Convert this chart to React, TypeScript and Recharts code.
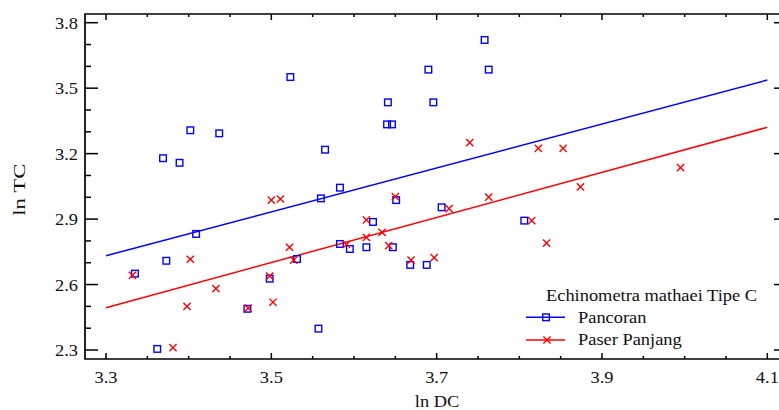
import React from "react";
import {
  Legend,
  ReferenceLine,
  Scatter,
  ScatterChart,
  XAxis,
  YAxis,
} from "recharts";

// Pancoran (blue squares)
const pancoranDC = [
  3.335, 3.362, 3.369, 3.373, 3.389, 3.402, 3.409, 3.437, 3.471, 3.498, 3.523,
  3.531, 3.557, 3.56, 3.565, 3.583, 3.583, 3.595, 3.615, 3.623, 3.64, 3.646,
  3.641, 3.647, 3.651, 3.668, 3.688, 3.69, 3.696, 3.706, 3.758, 3.763, 3.806,
];
const pancoranTC = [
  2.65, 2.305, 3.179, 2.709, 3.158, 3.307, 2.832, 3.293, 2.489, 2.627, 3.551,
  2.717, 2.398, 2.995, 3.218, 3.044, 2.786, 2.763, 2.771, 2.887, 3.334, 3.334,
  3.435, 2.771, 2.987, 2.69, 2.69, 3.585, 3.435, 2.954, 3.721, 3.585, 2.893,
];

// Paser Panjang (red crosses)
const paserDC = [
  3.332, 3.381, 3.398, 3.402, 3.433, 3.472, 3.498, 3.5, 3.502, 3.511, 3.522,
  3.527, 3.591, 3.615, 3.615, 3.634, 3.642, 3.65, 3.669, 3.697, 3.715, 3.74,
  3.763, 3.815, 3.823, 3.833, 3.853, 3.874, 3.995,
];
const paserTC = [
  2.642, 2.311, 2.5, 2.716, 2.581, 2.492, 2.639, 2.987, 2.519, 2.992, 2.771,
  2.712, 2.784, 2.896, 2.816, 2.839, 2.778, 3.003, 2.712, 2.723, 2.948, 3.25,
  3.001, 2.893, 3.224, 2.79, 3.224, 3.048, 3.136,
];

// fitted lines, ln TC at ln DC = 3.3 and 4.1
const fitDC = [3.3, 4.1];
const pancoranFit = [2.732, 3.537];
const paserFit = [2.494, 3.321];

const xDomain = [3.2746, 4.1238];
const yDomain = [2.2588, 3.8399];
const xTicks = [
  3.3, 3.35, 3.4, 3.45, 3.5, 3.55, 3.6, 3.65, 3.7, 3.75, 3.8, 3.85, 3.9, 3.95,
  4.0, 4.05, 4.1,
];
const xLabels = ["3.3", "3.5", "3.7", "3.9", "4.1"];
const yTicks = [
  2.3, 2.4, 2.5, 2.6, 2.7, 2.8, 2.9, 3.0, 3.1, 3.2, 3.3, 3.4, 3.5, 3.6, 3.7,
  3.8,
];
const yLabels = ["2.3", "2.6", "2.9", "3.2", "3.5", "3.8"];

const pancoran = pancoranDC.map((x, i) => ({ x, y: pancoranTC[i] }));
const paser = paserDC.map((x, i) => ({ x, y: paserTC[i] }));

const BLUE = "#0000ff";
const RED = "#ff0000";
const FONT = '"Liberation Serif", "Times New Roman", serif';

const PLOT_LEFT = 85;
const PLOT_RIGHT = 787;
const PLOT_TOP = 14;
const PLOT_BOTTOM = 359;

const findLabel = (labels: string[], v: number) =>
  labels.find((l) => Math.abs(parseFloat(l) - v) < 1e-6);

function Label({ x, y, anchor, children }: any) {
  return (
    <text
      transform={`translate(${x} ${y}) scale(1.15 1)`}
      textAnchor={anchor}
      fontFamily={FONT}
      fontSize={16}
      fill="#111"
    >
      {children}
    </text>
  );
}

// axis titles ignore the props recharts passes in
function XTitle() {
  return (
    <Label x={437} y={407} anchor="middle">
      ln DC
    </Label>
  );
}

function YTitle() {
  return (
    <text
      transform="translate(25 189.7) rotate(-90) scale(1.34 1)"
      textAnchor="middle"
      fontFamily={FONT}
      fontSize={17}
      fill="#111"
    >
      ln TC
    </text>
  );
}

function Frame() {
  return (
    <path
      d={`M${PLOT_RIGHT},${PLOT_TOP}H${PLOT_LEFT}V${PLOT_BOTTOM}H${PLOT_RIGHT}`}
      fill="none"
      stroke="#000"
      strokeWidth={1.7}
    />
  );
}

function BottomTick(props: any) {
  const x = props.payload.coordinate ?? props.x;
  const label = findLabel(xLabels, props.payload.value);
  return (
    <g>
      <line x1={x} x2={x} y1={PLOT_BOTTOM} y2={PLOT_BOTTOM - (label ? 6 : 3)} stroke="#000" strokeWidth={1.5} />
      {label && (
        <Label x={x} y={383} anchor="middle">
          {label}
        </Label>
      )}
    </g>
  );
}

function TopTick(props: any) {
  const x = props.payload.coordinate ?? props.x;
  const label = findLabel(xLabels, props.payload.value);
  return <line x1={x} x2={x} y1={PLOT_TOP} y2={PLOT_TOP + (label ? 6 : 3)} stroke="#000" strokeWidth={1.5} />;
}

// the lowest left tick also draws the frame (top, left and bottom sides)
function LeftTick(props: any) {
  const y = props.payload.coordinate ?? props.y;
  const v = props.payload.value;
  const label = findLabel(yLabels, v);
  return (
    <g>
      {Math.abs(v - yTicks[0]) < 1e-6 && <Frame />}
      <line x1={PLOT_LEFT} x2={PLOT_LEFT + (label ? 13 : 6)} y1={y} y2={y} stroke="#000" strokeWidth={1.5} />
      {label && (
        <Label x={78} y={y + 6} anchor="end">
          {label}
        </Label>
      )}
    </g>
  );
}

function RightTick(props: any) {
  const y = props.payload.coordinate ?? props.y;
  const label = findLabel(yLabels, props.payload.value);
  return <line x1={PLOT_RIGHT - (label ? 13 : 6)} x2={PLOT_RIGHT} y1={y} y2={y} stroke="#000" strokeWidth={1.5} />;
}

function Square({ cx, cy, stroke = BLUE }: any) {
  return <rect x={cx - 3.3} y={cy - 3.3} width={6.6} height={6.6} fill="none" stroke={stroke} strokeWidth={1.4} />;
}

function Cross({ cx, cy, stroke = RED }: any) {
  const r = 3.6;
  return (
    <g stroke={stroke} strokeWidth={1.4}>
      <line x1={cx - r} y1={cy - r} x2={cx + r} y2={cy + r} />
      <line x1={cx - r} y1={cy + r} x2={cx + r} y2={cy - r} />
    </g>
  );
}

function LegendBox() {
  return (
    <svg width={260} height={80} style={{ display: "block" }}>
      <Label x={26} y={21} anchor="start">
        Echinometra mathaei Tipe C
      </Label>
      <line x1={6} x2={45} y1={37.3} y2={37.3} stroke={BLUE} strokeWidth={1.5} />
      <Square cx={26} cy={37.3} />
      <Label x={58} y={43} anchor="start">
        Pancoran
      </Label>
      <line x1={6} x2={45} y1={60} y2={60} stroke={RED} strokeWidth={1.5} />
      <Cross cx={27} cy={60} />
      <Label x={58} y={65} anchor="start">
        Paser Panjang
      </Label>
    </svg>
  );
}

export default function App() {
  return (
    <div style={{ width: 779, height: 410, overflow: "hidden", position: "relative", background: "#fff" }}>
      <style>{"body{margin:0}"}</style>
      <ScatterChart width={800} height={410} margin={{ top: 0, right: 0, bottom: 0, left: 0 }}>
        <XAxis
          type="number"
          dataKey="x"
          domain={xDomain}
          ticks={xTicks}
          interval={0}
          allowDataOverflow
          height={51}
          axisLine={false}
          tickLine={false}
          tick={<BottomTick />}
          label={<XTitle />}
        />
        <XAxis
          xAxisId="top"
          orientation="top"
          type="number"
          dataKey="x"
          domain={xDomain}
          ticks={xTicks}
          interval={0}
          allowDataOverflow
          height={14}
          axisLine={false}
          tickLine={false}
          tick={<TopTick />}
        />
        <YAxis
          type="number"
          dataKey="y"
          domain={yDomain}
          ticks={yTicks}
          interval={0}
          allowDataOverflow
          width={85}
          axisLine={false}
          tickLine={false}
          tick={<LeftTick />}
          label={<YTitle />}
        />
        <YAxis
          yAxisId="right"
          orientation="right"
          type="number"
          dataKey="y"
          domain={yDomain}
          ticks={yTicks}
          interval={0}
          allowDataOverflow
          width={13}
          axisLine={false}
          tickLine={false}
          tick={<RightTick />}
        />
        <ReferenceLine
          segment={[
            { x: fitDC[0], y: pancoranFit[0] },
            { x: fitDC[1], y: pancoranFit[1] },
          ]}
          stroke={BLUE}
          strokeWidth={1.5}
        />
        <ReferenceLine
          segment={[
            { x: fitDC[0], y: paserFit[0] },
            { x: fitDC[1], y: paserFit[1] },
          ]}
          stroke={RED}
          strokeWidth={1.5}
        />
        <Scatter name="Pancoran" data={pancoran} fill={BLUE} shape={(p: any) => <Square cx={p.cx} cy={p.cy} />} isAnimationActive={false} />
        <Scatter name="Paser Panjang" data={paser} fill={RED} shape={(p: any) => <Cross cx={p.cx} cy={p.cy} />} isAnimationActive={false} />
        <Legend
          verticalAlign="middle"
          align="center"
          content={() => <LegendBox />}
          wrapperStyle={{ position: "absolute", left: 520, top: 280, width: 260, height: 80 }}
        />
      </ScatterChart>
    </div>
  );
}
